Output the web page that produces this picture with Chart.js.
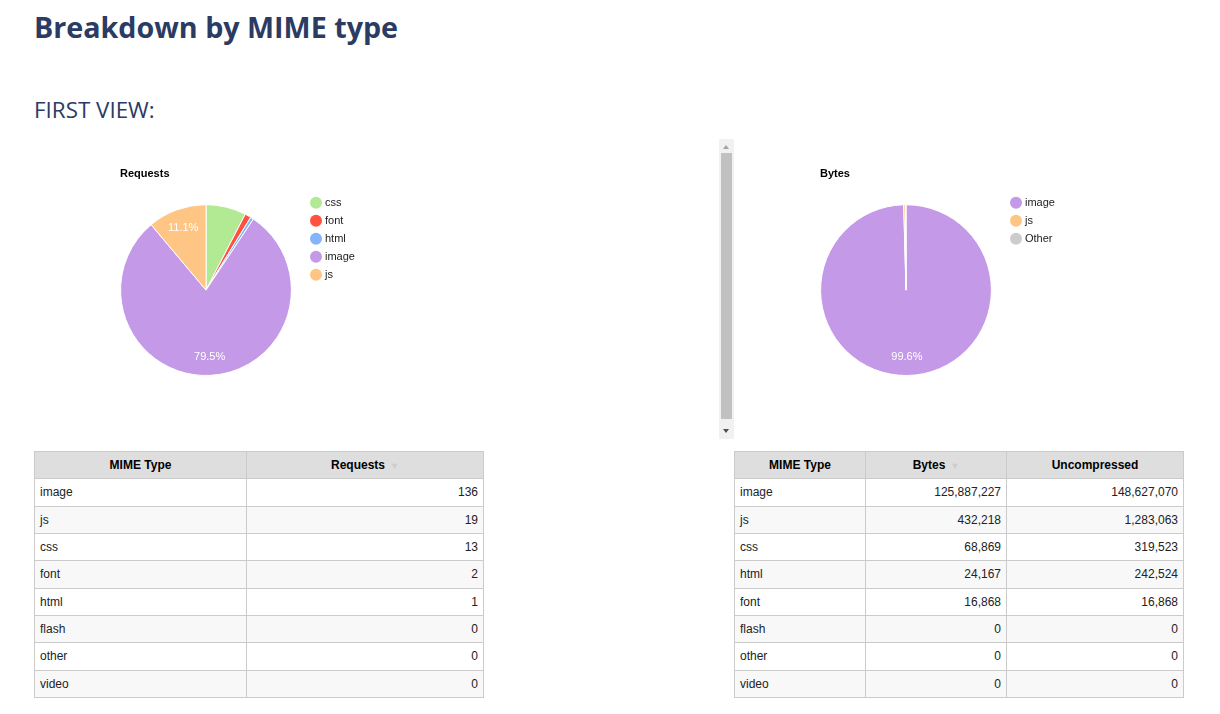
<!DOCTYPE html>
<html>
<head>
<meta charset="utf-8">
<title>Breakdown by MIME type</title>
<script src="https://cdn.jsdelivr.net/npm/chart.js@4/dist/chart.umd.min.js"></script>
<style>
  body { margin: 0; background: #fff; font-family: "Open Sans", sans-serif; }
  h1 { position: absolute; left: 34px; top: 13px; margin: 0; font-size: 28.7px; line-height: 1; font-weight: 700; color: #2b3b63; }
  h2 { position: absolute; left: 34px; top: 99px; margin: 0; font-size: 22.4px; line-height: 1; font-weight: 400; color: #2b3b63; }
  .chart { position: absolute; top: 139px; height: 300px; }
  #reqBox { left: 34px; width: 650px; }
  #bytesBox { left: 734px; width: 450px; }
  .scroll { position: absolute; left: 719px; top: 139px; width: 15px; height: 300px; background: #f1f1f1; }
  .thumb { position: absolute; left: 2px; top: 14px; width: 11px; height: 266px; background: #c1c1c1; }
  .up, .down { position: absolute; left: 4px; width: 0; height: 0; border-left: 3.5px solid transparent; border-right: 3.5px solid transparent; }
  .up { top: 6px; border-bottom: 4px solid #a3a3a3; }
  .down { bottom: 6px; border-top: 4px solid #505050; }
  table { position: absolute; top: 451px; border-collapse: collapse; font-family: "Liberation Sans", Arial, sans-serif; font-size: 12px; color: #222; }
  th, td { border: 1px solid #cbcbcb; height: 27.33px; padding: 0 5px; box-sizing: border-box; }
  th { background: #dedede; color: #000; font-weight: 700; text-align: center; }
  td.n { text-align: right; }
  tr:nth-child(even) td { background: #f8f8f8; }
  .arrow { color: #ccc; font-size: 9px; margin-left: 5px; }
  #reqTable { left: 34px; width: 450px; }
  #bytesTable { left: 734px; width: 450px; }
</style>
</head>
<body>
<h1>Breakdown by MIME type</h1>
<h2>FIRST VIEW:</h2>

<div class="chart" id="reqBox"><canvas id="reqChart"></canvas></div>
<div class="scroll"><div class="up"></div><div class="thumb"></div><div class="down"></div></div>
<div class="chart" id="bytesBox"><canvas id="bytesChart"></canvas></div>

<table id="reqTable">
  <thead><tr><th style="width:212px">MIME Type</th><th>Requests<span class="arrow">&#9660;</span></th></tr></thead>
  <tbody id="reqBody"></tbody>
</table>
<table id="bytesTable">
  <thead><tr><th style="width:131px">MIME Type</th><th style="width:141px">Bytes<span class="arrow">&#9660;</span></th><th>Uncompressed</th></tr></thead>
  <tbody id="bytesBody"></tbody>
</table>

<script>
// pie: requests
const reqLabels = ['css', 'font', 'html', 'image', 'js'];
const reqValues = [13, 2, 1, 136, 19];
const reqColors = ['#b2ea94', '#ff523e', '#82b5fc', '#c49ae8', '#fec584'];

// pie: bytes (css + html + font folded into Other)
const bytesLabels = ['image', 'js', 'Other'];
const bytesValues = [125887227, 432218, 109904];
const bytesColors = ['#c49ae8', '#fec584', '#cccccc'];

// tables
const reqTypes = ['image', 'js', 'css', 'font', 'html', 'flash', 'other', 'video'];
const reqCounts = [136, 19, 13, 2, 1, 0, 0, 0];
const bytesTypes = ['image', 'js', 'css', 'html', 'font', 'flash', 'other', 'video'];
const bytesSizes = [125887227, 432218, 68869, 24167, 16868, 0, 0, 0];
const bytesUncompressed = [148627070, 1283063, 319523, 242524, 16868, 0, 0, 0];

const font = '"Liberation Sans", Arial, sans-serif';

// percent text inside the bigger slices
const sliceLabels = {
  id: 'sliceLabels',
  afterDatasetsDraw(chart) {
    const ctx = chart.ctx;
    const values = chart.data.datasets[0].data;
    const total = values.reduce((a, b) => a + b, 0);
    ctx.save();
    ctx.font = '11px ' + font;
    ctx.fillStyle = '#fff';
    ctx.textAlign = 'center';
    ctx.textBaseline = 'middle';
    chart.getDatasetMeta(0).data.forEach((arc, i) => {
      const share = values[i] / total;
      if (share < 0.1) return;
      const p = arc.getProps(['x', 'y', 'startAngle', 'endAngle', 'outerRadius'], true);
      const mid = (p.startAngle + p.endAngle) / 2;
      const r = p.outerRadius * 0.78;
      ctx.fillText((share * 100).toFixed(1) + '%', p.x + Math.cos(mid) * r, p.y + Math.sin(mid) * r);
    });
    ctx.restore();
  }
};

// legend with round markers, to the right of the pie
const sideLegend = {
  id: 'sideLegend',
  afterDraw(chart) {
    const {ctx, chartArea} = chart;
    const colors = chart.data.datasets[0].backgroundColor;
    ctx.save();
    ctx.font = '11px ' + font;
    ctx.textBaseline = 'middle';
    ctx.textAlign = 'left';
    chart.data.labels.forEach((label, i) => {
      const cx = chartArea.right + 24, cy = chartArea.top - 1.5 + i * 18;
      ctx.beginPath();
      ctx.arc(cx, cy, 6, 0, Math.PI * 2);
      ctx.fillStyle = colors[i];
      ctx.fill();
      ctx.fillStyle = '#222';
      ctx.fillText(label, cx + 9, cy);
    });
    ctx.restore();
  }
};

function pie(id, title, labels, values, colors, rightPad) {
  return new Chart(document.getElementById(id), {
    type: 'pie',
    data: { labels: labels, datasets: [{ data: values, backgroundColor: colors, borderColor: '#fff', borderWidth: 1, hoverOffset: 0 }] },
    options: {
      responsive: true, maintainAspectRatio: false, animation: false,
      layout: { padding: { left: 86, right: rightPad, top: 28, bottom: 63 } },
      plugins: {
        legend: { display: false },
        tooltip: { enabled: false },
        title: { display: true, text: title, align: 'start', color: '#000', font: { family: font, size: 11, weight: 'bold' }, padding: { top: 0, bottom: 24 } }
      }
    },
    plugins: [sliceLabels, sideLegend]
  });
}

pie('reqChart', 'Requests', reqLabels, reqValues, reqColors, 650 - 86 - 172);
pie('bytesChart', 'Bytes', bytesLabels, bytesValues, bytesColors, 450 - 86 - 172);

// tables
const fmt = v => v.toLocaleString('en-US');
document.getElementById('reqBody').innerHTML = reqTypes.map((t, i) =>
  `<tr><td>${t}</td><td class="n">${fmt(reqCounts[i])}</td></tr>`).join('');
document.getElementById('bytesBody').innerHTML = bytesTypes.map((t, i) =>
  `<tr><td>${t}</td><td class="n">${fmt(bytesSizes[i])}</td><td class="n">${fmt(bytesUncompressed[i])}</td></tr>`).join('');
</script>
</body>
</html>
